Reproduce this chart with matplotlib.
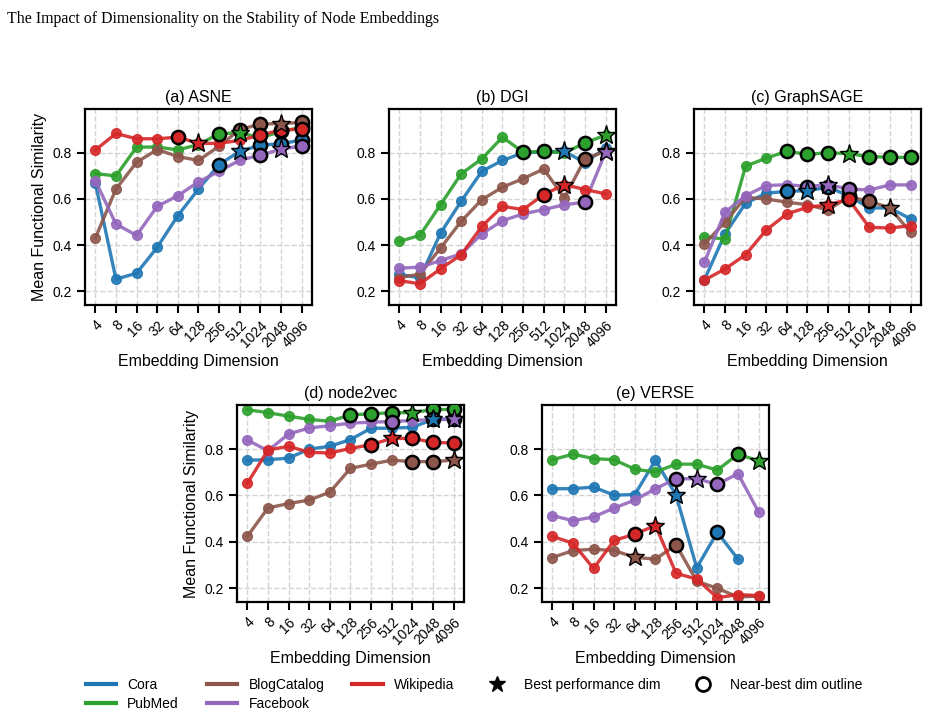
import numpy as np
import matplotlib
matplotlib.use("Agg")
import matplotlib.pyplot as plt
from matplotlib.lines import Line2D

plt.rcParams['font.family'] = ['Liberation Sans', 'DejaVu Sans']

# %%
# data
dims = ["4", "8", "16", "32", "64", "128", "256", "512", "1024", "2048", "4096"]
datasets = ["Cora", "PubMed", "BlogCatalog", "Facebook", "Wikipedia"]
colors = {"Cora": "#1f77b4", "PubMed": "#2ca02c", "BlogCatalog": "#8c564b",
          "Facebook": "#9467bd", "Wikipedia": "#d62728"}

asne = {
    "Cora":        [0.670, 0.252, 0.278, 0.390, 0.528, 0.643, 0.749, 0.807, 0.833, 0.840, 0.855],
    "PubMed":      [0.710, 0.700, 0.825, 0.825, 0.813, 0.836, 0.883, 0.887, 0.865, 0.893, 0.910],
    "BlogCatalog": [0.430, 0.643, 0.759, 0.814, 0.784, 0.767, 0.829, 0.901, 0.925, 0.927, 0.932],
    "Facebook":    [0.680, 0.491, 0.442, 0.568, 0.614, 0.674, 0.720, 0.768, 0.790, 0.816, 0.830],
    "Wikipedia":   [0.812, 0.884, 0.861, 0.861, 0.868, 0.841, 0.841, 0.854, 0.877, 0.899, 0.903],
}
dgi = {
    "Cora":        [0.274, 0.257, 0.452, 0.590, 0.720, 0.767, 0.800, 0.804, 0.807, 0.757, 0.822],
    "PubMed":      [0.416, 0.442, 0.575, 0.709, 0.774, 0.868, 0.803, 0.806, 0.800, 0.843, 0.877],
    "BlogCatalog": [0.259, 0.274, 0.387, 0.503, 0.597, 0.651, 0.688, 0.730, 0.604, 0.774, 0.807],
    "Facebook":    [0.300, 0.304, 0.333, 0.362, 0.448, 0.506, 0.535, 0.554, 0.575, 0.586, 0.803],
    "Wikipedia":   [0.246, 0.232, 0.297, 0.358, 0.481, 0.568, 0.554, 0.619, 0.662, 0.641, 0.622],
}
graphsage = {
    "Cora":        [0.248, 0.448, 0.581, 0.625, 0.633, 0.636, 0.651, 0.614, 0.561, 0.561, 0.513],
    "PubMed":      [0.436, 0.426, 0.742, 0.777, 0.807, 0.793, 0.801, 0.796, 0.784, 0.781, 0.780],
    "BlogCatalog": [0.404, 0.499, 0.607, 0.600, 0.586, 0.575, 0.552, 0.610, 0.590, 0.561, 0.455],
    "Facebook":    [0.325, 0.542, 0.614, 0.658, 0.662, 0.654, 0.662, 0.643, 0.639, 0.661, 0.661],
    "Wikipedia":   [0.248, 0.296, 0.358, 0.465, 0.535, 0.564, 0.575, 0.598, 0.477, 0.474, 0.484],
}
node2vec = {
    "Cora":        [0.752, 0.754, 0.761, 0.800, 0.812, 0.841, 0.890, 0.890, 0.894, 0.928, 0.930],
    "PubMed":      [0.970, 0.957, 0.942, 0.928, 0.920, 0.948, 0.952, 0.957, 0.957, 0.971, 0.971],
    "BlogCatalog": [0.423, 0.546, 0.565, 0.580, 0.614, 0.717, 0.735, 0.752, 0.746, 0.746, 0.752],
    "Facebook":    [0.839, 0.793, 0.865, 0.891, 0.901, 0.912, 0.916, 0.919, 0.923, 0.928, 0.928],
    "Wikipedia":   [0.652, 0.796, 0.812, 0.786, 0.783, 0.803, 0.819, 0.846, 0.846, 0.829, 0.826],
}
verse = {
    "Cora":        [0.629, 0.629, 0.636, 0.601, 0.604, 0.752, 0.601, 0.288, 0.441, 0.325, np.nan],
    "PubMed":      [0.754, 0.778, 0.759, 0.754, 0.713, 0.701, 0.735, 0.735, 0.709, 0.778, 0.749],
    "BlogCatalog": [0.332, 0.362, 0.368, 0.362, 0.333, 0.325, 0.387, 0.230, 0.199, 0.162, 0.165],
    "Facebook":    [0.513, 0.491, 0.507, 0.546, 0.580, 0.629, 0.672, 0.672, 0.648, 0.694, 0.528],
    "Wikipedia":   [0.423, 0.394, 0.285, 0.406, 0.433, 0.470, 0.264, 0.239, 0.159, 0.172, 0.168],
}

# index of best dim per dataset, and indices of near-best dims
asne_best = {"Cora": 7, "PubMed": 7, "BlogCatalog": 9, "Facebook": 9, "Wikipedia": 5}
asne_near = {"Cora": [6, 8, 9, 10], "PubMed": [6, 9, 10], "BlogCatalog": [7, 8, 10],
             "Facebook": [8, 10], "Wikipedia": [4, 8, 9, 10]}
dgi_best = {"Cora": 8, "PubMed": 10, "BlogCatalog": 10, "Facebook": 10, "Wikipedia": 8}
dgi_near = {"Cora": [], "PubMed": [6, 7, 9], "BlogCatalog": [9],
            "Facebook": [9], "Wikipedia": [7]}
sage_best = {"Cora": 5, "PubMed": 7, "BlogCatalog": 9, "Facebook": 6, "Wikipedia": 6}
sage_near = {"Cora": [4, 6, 7], "PubMed": [4, 5, 6, 8, 9, 10], "BlogCatalog": [7, 8],
             "Facebook": [5, 7], "Wikipedia": [7]}
n2v_best = {"Cora": 9, "PubMed": 8, "BlogCatalog": 10, "Facebook": 10, "Wikipedia": 7}
n2v_near = {"Cora": [10], "PubMed": [5, 6, 7, 9, 10], "BlogCatalog": [8, 9],
            "Facebook": [7, 9], "Wikipedia": [6, 8, 9, 10]}
verse_best = {"Cora": 6, "PubMed": 10, "BlogCatalog": 4, "Facebook": 7, "Wikipedia": 5}
verse_near = {"Cora": [8], "PubMed": [9], "BlogCatalog": [6],
              "Facebook": [6, 8], "Wikipedia": [4]}

panels = [
    ("(a) ASNE", asne, asne_best, asne_near, [0.0915, 0.5734, 0.2443, 0.2741]),
    ("(b) DGI", dgi, dgi_best, dgi_near, [0.4187, 0.5734, 0.2443, 0.2741]),
    ("(c) GraphSAGE", graphsage, sage_best, sage_near, [0.7470, 0.5734, 0.2443, 0.2741]),
    ("(d) node2vec", node2vec, n2v_best, n2v_near, [0.2551, 0.1580, 0.2443, 0.2755]),
    ("(e) VERSE", verse, verse_best, verse_near, [0.5834, 0.1580, 0.2443, 0.2755]),
]

# %%
fig = plt.figure(figsize=(9.29, 7.15), dpi=100)
fig.text(0.008, 0.985, "The Impact of Dimensionality on the Stability of Node Embeddings",
         family="Liberation Serif", fontsize=11.4, va="top", ha="left")

x = np.arange(len(dims))
for k, (title, data, best, near, rect) in enumerate(panels):
    ax = fig.add_axes(rect)
    for name in datasets:
        y = np.array(data[name], dtype=float)
        c = colors[name]
        ax.plot(x, y, color=c, lw=2.4, marker="o", ms=7, alpha=0.9, zorder=2)
        idx = near[name]
        if idx:
            ax.plot(x[idx], y[idx], ls="none", marker="o", ms=9.5, mfc=c,
                    mec="black", mew=1.8, zorder=4)
        b = best[name]
        ax.plot(x[b], y[b], ls="none", marker="*", ms=14, mfc=c,
                mec="black", mew=1.0, zorder=5)

    ax.set_xlim(-0.5, len(dims) - 0.5)
    ax.set_ylim(0.14, 0.99)
    ax.set_xticks(x)
    ax.set_xticklabels(dims, rotation=45, ha="right", rotation_mode="anchor")
    ax.set_yticks([0.2, 0.4, 0.6, 0.8])
    ax.grid(True, ls="--", color="#d3d3d3", lw=1.0)
    ax.set_axisbelow(True)
    ax.tick_params(axis="both", labelsize=10, length=6, width=1.5, direction="out")
    for s in ax.spines.values():
        s.set_linewidth(1.6)
    ax.set_title(title, fontsize=11.5, pad=5)
    ax.set_xlabel("Embedding Dimension", fontsize=11.5, labelpad=3)
    if k in (0, 3):
        ax.set_ylabel("Mean Functional Similarity", fontsize=11.5)

# legend
handles = [Line2D([], [], color=colors[n], lw=3) for n in datasets]
labels = list(datasets)
handles.append(Line2D([], [], ls="none", marker="*", ms=12, color="black"))
labels.append("Best performance dim")
handles.append(Line2D([], [], ls="none", marker="o", ms=10, mfc="white", mec="black", mew=2))
labels.append("Near-best dim outline")
fig.legend(handles, labels, loc="lower center", bbox_to_anchor=(0.51, -0.012), ncol=5,
           frameon=False, fontsize=10, handlelength=2.2, handletextpad=0.8,
           columnspacing=2.0, labelspacing=0.35)

fig.savefig("out.png", dpi=100)
